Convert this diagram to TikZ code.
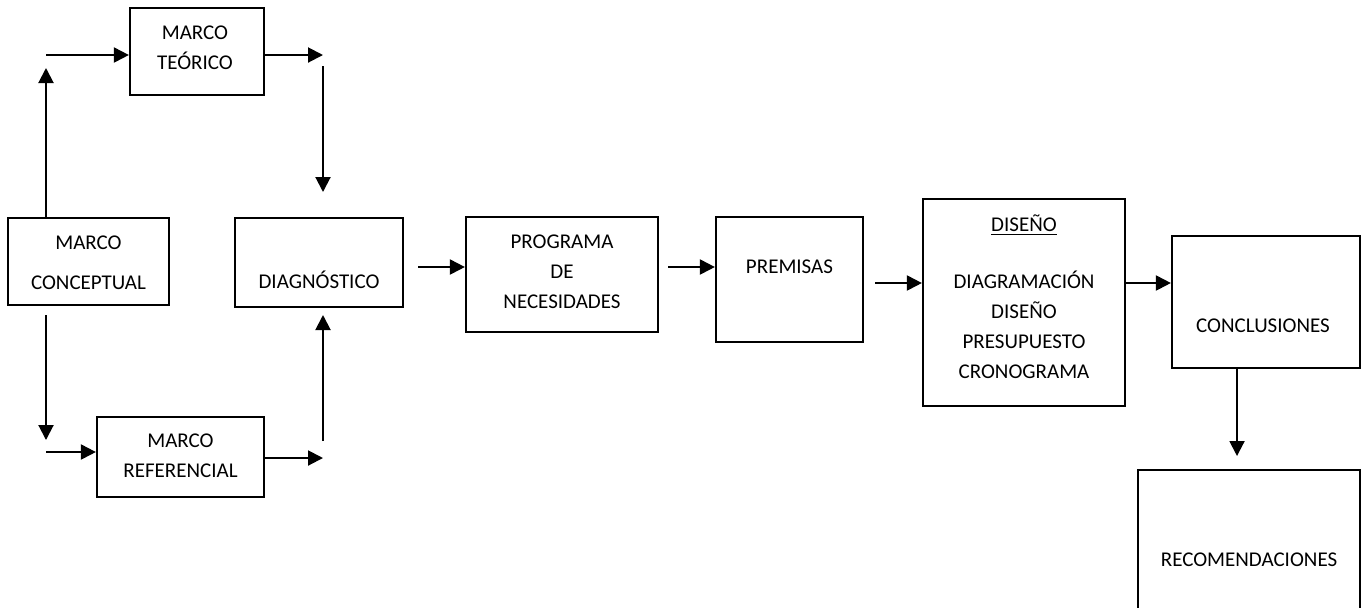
\documentclass[tikz,border=0pt]{standalone}
\usepackage{fontspec}
\setmainfont{Carlito}
\usepackage{tikz}
\usetikzlibrary{arrows.meta}

\begin{document}
\begin{tikzpicture}[x=0.5pt, y=-0.5pt, every node/.style={font=\fontsize{10.5}{15}\selectfont, align=center}, caja/.style={draw=black, line width=1.1pt, rectangle, inner sep=0pt}, flecha/.style={draw=black, line width=1pt, -{Triangle[length=7.5pt, width=7.5pt]}}]
				\clip (0,0) rectangle (1368,607);
				
				% cajas
				\node[caja, minimum width=67pt, minimum height=43.5pt] (teorico) at (197,51.5){};
				\node[caja, minimum width=80.5pt, minimum height=43.5pt] (conceptual) at (88.5,261.5){};
				\node[caja, minimum width=84pt, minimum height=44.5pt] (diagnostico) at (319,262.5){};
				\node[caja, minimum width=83.5pt, minimum height=40pt] (referencial) at (180.5,457){};
				\node[caja, minimum width=96pt, minimum height=57.5pt] (programa) at (562,274.5){};
				\node[caja, minimum width=73.5pt, minimum height=62.5pt] (premisas) at (789.5,279.5){};
				\node[caja, minimum width=101pt, minimum height=103.5pt] (diseno) at (1024,302.5){};
				\node[caja, minimum width=94pt, minimum height=66pt] (conclusiones) at (1266,302){};
				\node[caja, minimum width=111pt, minimum height=72pt] (recomendaciones) at (1249,542){};
				
				% textos
				\node (text1) at (195,48){MARCO\\TEÓRICO};
				\node (text2) at (88.5,263){MARCO\\[5pt]CONCEPTUAL};
				\node (text3) at (319,280){DIAGNÓSTICO};
				\node (text4) at (180.5,456){MARCO\\REFERENCIAL};
				\node (text5) at (562,272){PROGRAMA\\DE\\NECESIDADES};
				\node (text6) at (789.5,267){PREMISAS};
				\node (text7) at (1024,297){\underline{DISEÑO}\\[13.5pt]DIAGRAMACIÓN\\DISEÑO\\PRESUPUESTO\\CRONOGRAMA};
				\node (text8) at (1263,326){CONCLUSIONES};
				\node (text9) at (1249,560){RECOMENDACIONES};
				
				% flechas
				\coordinate (a1) at (46,68);
				\coordinate (a2) at (46,55);
				\coordinate (a3) at (323,55);
				\coordinate (a4) at (323,66);
				\coordinate (a5) at (323,192);
				\coordinate (a6) at (46,315);
				\coordinate (a7) at (46,440);
				\coordinate (a8) at (46,452);
				\coordinate (a9) at (323,458);
				\coordinate (a10) at (323,441);
				\coordinate (a11) at (323,315);
				\coordinate (a12) at (418,267);
				\coordinate (a13) at (668,267);
				\coordinate (a14) at (875,283);
				\coordinate (a15) at (1237,456);
				
				\draw[flecha] (conceptual.north -| a1) -- (a1);
				\draw[flecha] (a2) -- (a2 -| teorico.west);
				\draw[flecha] (a3 -| teorico.east) -- (a3);
				\draw[flecha] (a4) -- (a5);
				\draw[flecha] (a6) -- (a7);
				\draw[flecha] (a8) -- (a8 -| referencial.west);
				\draw[flecha] (a9 -| referencial.east) -- (a9);
				\draw[flecha] (a10) -- (a11);
				\draw[flecha] (a12) -- (a12 -| programa.west);
				\draw[flecha] (a13) -- (a13 -| premisas.west);
				\draw[flecha] (a14) -- (a14 -| diseno.west);
				\draw[flecha] (a14 -| diseno.east) -- (a14 -| conclusiones.west);
				\draw[flecha] (conclusiones.south -| a15) -- (a15);
				\end{tikzpicture}
\end{document}
